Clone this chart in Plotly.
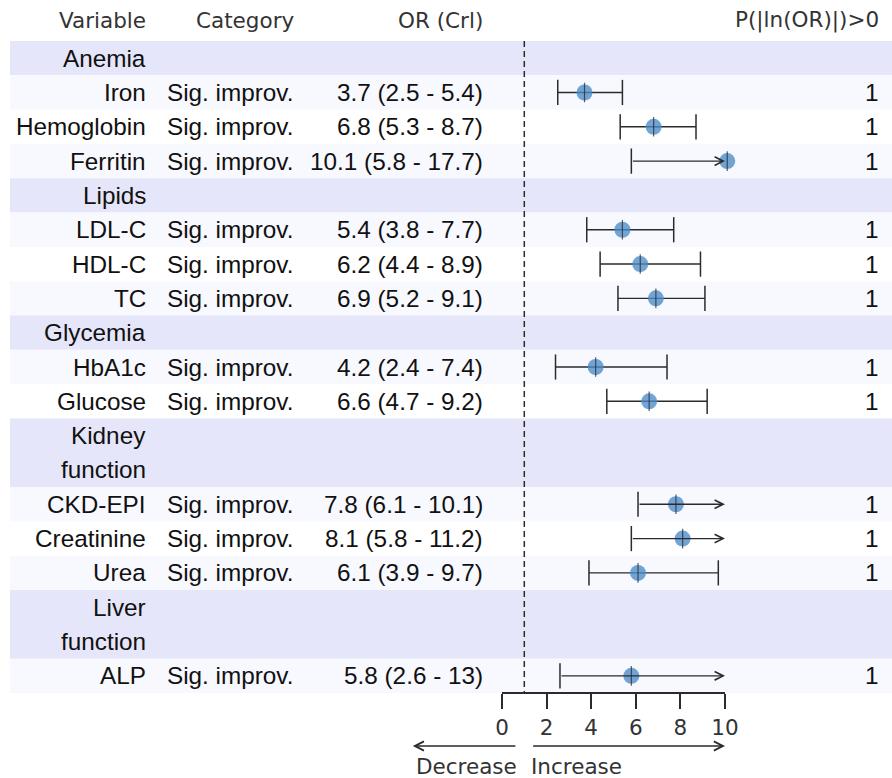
import plotly.graph_objects as go

# ---------------- data ----------------
group_labels = ["Anemia", "Lipids", "Glycemia", "Kidney<br>function", "Liver<br>function"]
items = ["Iron", "Hemoglobin", "Ferritin", "LDL-C", "HDL-C", "TC", "HbA1c", "Glucose",
         "CKD-EPI", "Creatinine", "Urea", "ALP"]
item_group = [0, 0, 0, 1, 1, 1, 2, 2, 3, 3, 3, 4]
categories = ["Sig. improv."] * 12
or_est = [3.7, 6.8, 10.1, 5.4, 6.2, 6.9, 4.2, 6.6, 7.8, 8.1, 6.1, 5.8]
ci_low = [2.5, 5.3, 5.8, 3.8, 4.4, 5.2, 2.4, 4.7, 6.1, 5.8, 3.9, 2.6]
ci_high = [5.4, 8.7, 17.7, 7.7, 8.9, 9.1, 7.4, 9.2, 10.1, 11.2, 9.7, 13]
prob = [1] * 12
tick_values = [0, 2, 4, 6, 8, 10]
header_labels = ["Variable", "Category", "OR (Crl)", "P(|ln(OR)|)>0"]
null_value = 1
axis_min, axis_max = 0, 10

# ---------------- layout constants ----------------
W, H = 892, 778
px_top, px_bottom = 41, 693
band_left = 10
col_var_right = 148
col_cat_left = 165
col_cat_hdr_right = 296
col_or_right = 485
col_p_right = 881
ax_left_px, ax_right_px = 502, 725

LAV = "#E6E6FA"
GHOST = "#F8F8FF"
TXT = "#111111"
HDR = "#333333"
LINE = "#2b2b2b"
data_font = dict(family="Liberation Sans, Arial, sans-serif", size=24.3, color=TXT)
hdr_font = dict(family="DejaVu Sans, sans-serif", size=21.5, color=HDR)


def fmt(v):
    return format(v, "g")


# full-width data axis aligned with the visible 0..10 axis
px_per_unit = (ax_right_px - ax_left_px) / (axis_max - axis_min)
x_full_range = [axis_min - ax_left_px / px_per_unit,
                axis_min + (W - ax_left_px) / px_per_unit]

shapes = []
annotations = []

# rows
y = 0
item_y = [None] * len(items)
for g, label in enumerate(group_labels):
    lines = label.split("<br>")
    n = len(lines)
    shapes.append(dict(type="rect", xref="paper", yref="y", x0=band_left / W, x1=1,
                       y0=y, y1=y + n, fillcolor=LAV, line_width=0, layer="below"))
    for k, ln in enumerate(lines):
        annotations.append(dict(text=ln, xref="paper", yref="y", x=col_var_right / W,
                                y=y + k + 0.5, xanchor="right", yanchor="middle",
                                showarrow=False, font=data_font))
    y += n
    idx = [i for i in range(len(items)) if item_group[i] == g]
    for j, i in enumerate(idx):
        shapes.append(dict(type="rect", xref="paper", yref="y", x0=band_left / W, x1=1,
                           y0=y, y1=y + 1, fillcolor=GHOST if j % 2 == 0 else "white",
                           line_width=0, layer="below"))
        item_y[i] = y + 0.5
        y += 1
total_rows = y
unit = (px_bottom - px_top) / total_rows
y_range = [(H - px_top) / unit, -px_top / unit]
header_y = (20 - px_top) / unit

# table text
for i in range(len(items)):
    yy = item_y[i]
    annotations.append(dict(text=items[i], xref="paper", yref="y", x=col_var_right / W, y=yy,
                            xanchor="right", yanchor="middle", showarrow=False, font=data_font))
    annotations.append(dict(text=categories[i], xref="paper", yref="y", x=col_cat_left / W, y=yy,
                            xanchor="left", yanchor="middle", showarrow=False, font=data_font))
    annotations.append(dict(text=f"{fmt(or_est[i])} ({fmt(ci_low[i])} - {fmt(ci_high[i])})",
                            xref="paper", yref="y", x=col_or_right / W, y=yy,
                            xanchor="right", yanchor="middle", showarrow=False, font=data_font))
    annotations.append(dict(text=fmt(prob[i]), xref="paper", yref="y", x=col_p_right / W, y=yy,
                            xanchor="right", yanchor="middle", showarrow=False, font=data_font))

# headers
hdr_pos = [col_var_right, col_cat_hdr_right, col_or_right, col_p_right]
for txt, xp in zip(header_labels, hdr_pos):
    annotations.append(dict(text=txt, xref="paper", yref="y", x=xp / W, y=header_y,
                            xanchor="right", yanchor="middle", showarrow=False, font=hdr_font))

# null line
shapes.append(dict(type="line", xref="x", yref="y", x0=null_value, x1=null_value, y0=0,
                   y1=total_rows, line=dict(color=LINE, width=1.5, dash="6px,4px")))

# CI segments
seg_x, seg_y = [], []
cap_x, cap_y = [], []
for i in range(len(items)):
    yy = item_y[i]
    cap_x.append(ci_low[i]); cap_y.append(yy)
    if ci_high[i] > axis_max:
        annotations.append(dict(text="", x=axis_max, y=yy, xref="x", yref="y",
                                ax=ci_low[i], ay=yy, axref="x", ayref="y", showarrow=True,
                                arrowhead=5, arrowsize=1.2, arrowwidth=1.4, arrowcolor=LINE,
                                standoff=0))
    else:
        seg_x += [ci_low[i], ci_high[i], None]
        seg_y += [yy, yy, None]
        cap_x.append(ci_high[i]); cap_y.append(yy)

fig = go.Figure()
fig.add_trace(go.Scatter(x=seg_x, y=seg_y, mode="lines", line=dict(color=LINE, width=1.4),
                         hoverinfo="skip"))
fig.add_trace(go.Scatter(x=cap_x, y=cap_y, mode="markers",
                         marker=dict(symbol="line-ns", size=18,
                                     line=dict(color=LINE, width=1.5)), hoverinfo="skip"))
fig.add_trace(go.Scatter(x=or_est, y=item_y, mode="markers",
                         marker=dict(symbol="circle", size=16, color="rgba(74,138,200,0.78)",
                                     line=dict(width=0))))
fig.add_trace(go.Scatter(x=or_est, y=item_y, mode="markers",
                         marker=dict(symbol="line-ns", size=14,
                                     line=dict(color="rgba(40,40,40,0.75)", width=1.2)),
                         hoverinfo="skip"))
# invisible trace that carries the visible 0..10 axis
fig.add_trace(go.Scatter(x=[axis_min, axis_max], y=[0, 0], xaxis="x2", yaxis="y",
                         mode="markers", marker=dict(opacity=0), hoverinfo="skip"))

# direction arrows below axis
arrow_y = (H - 746) / H
label_y = (H - 766) / H
annotations.append(dict(text="", x=-4.0, y=arrow_y, xref="x", yref="paper",
                        ax=null_value - 0.33, ay=0, axref="x", ayref="pixel",
                        showarrow=True, arrowhead=5, arrowsize=1.2, arrowwidth=1.5,
                        arrowcolor=LINE, standoff=0))
annotations.append(dict(text="", x=axis_max, y=arrow_y, xref="x", yref="paper",
                        ax=null_value + 0.33, ay=0, axref="x", ayref="pixel",
                        showarrow=True, arrowhead=5, arrowsize=1.2, arrowwidth=1.5,
                        arrowcolor=LINE, standoff=0))
annotations.append(dict(text="Decrease", x=null_value - 0.25, y=label_y, xref="x", yref="paper",
                        xanchor="right", yanchor="middle", showarrow=False, font=hdr_font))
annotations.append(dict(text="Increase", x=null_value + 0.2, y=label_y, xref="x", yref="paper",
                        xanchor="left", yanchor="middle", showarrow=False, font=hdr_font))

fig.update_layout(
    template="none",
    width=W, height=H, autosize=False,
    margin=dict(l=0, r=0, t=0, b=0, pad=0, autoexpand=False),
    paper_bgcolor="white", plot_bgcolor="rgba(0,0,0,0)", showlegend=False,
    shapes=shapes, annotations=annotations,
    xaxis=dict(domain=[0, 1], range=x_full_range, visible=False, fixedrange=True,
               automargin=False),
    xaxis2=dict(domain=[ax_left_px / W, ax_right_px / W], range=[axis_min, axis_max],
                anchor="free", position=(H - px_bottom) / H, showgrid=False, zeroline=False,
                showline=True, linecolor=LINE, linewidth=1.5, ticks="outside", ticklen=15,
                tickwidth=1.5, tickcolor=LINE, tickvals=tick_values,
                ticktext=[fmt(v) for v in tick_values], tickfont=hdr_font, fixedrange=True,
                automargin=False),
    yaxis=dict(domain=[0, 1], range=y_range, visible=False, fixedrange=True,
               automargin=False),
)
fig.write_html("out.html", config={"displayModeBar": False, "responsive": False},
               post_script="document.body.style.margin='0';")
